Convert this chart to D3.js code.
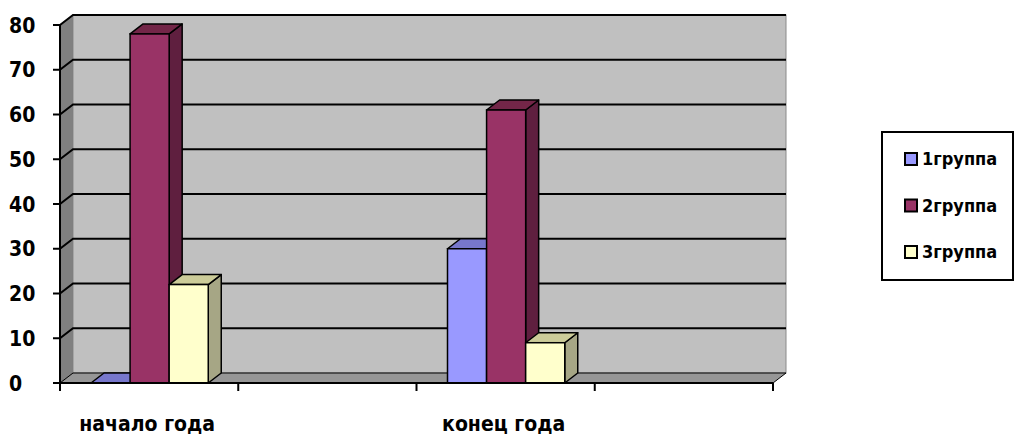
<!DOCTYPE html>
<html>
<head>
<meta charset="utf-8">
<script src="https://cdn.jsdelivr.net/npm/d3@7"></script>
<style>
  body { margin: 0; background: #fff; }
  text { font-family: "DejaVu Sans Condensed", "DejaVu Sans", sans-serif; font-weight: bold; fill: #000; }
</style>
</head>
<body>
<script>
// data
var categories = ["начало года", "", "конец года", " "];
var series = ["1группа", "2группа", "3группа"];
var group1 = [0, null, 30, null];
var group2 = [78, null, 61, null];
var group3 = [22, null, 9, null];
var yTicks = [0, 10, 20, 30, 40, 50, 60, 70, 80];

var colors = [
  { front: "#9999ff", top: "#7777cc", side: "#6666aa" },
  { front: "#993366", top: "#732648", side: "#5f1f3f" },
  { front: "#ffffcc", top: "#cccc99", side: "#a6a685" }
];

var width = 1017, height = 435;
var dx = 13, dy = -10; // depth offset

var svg = d3.select("body").append("svg")
  .attr("width", width)
  .attr("height", height);

var x = d3.scaleBand().domain(categories).range([60, 773]);
var y = d3.scaleLinear().domain([0, 80]).range([383, 25]);
var xs = d3.scaleBand().domain(series).range([31, x.bandwidth() - 30]);

var x0 = 60, x1 = 773, yb = y(0), yt = y(80);

// left side wall
svg.append("path")
  .attr("d", "M" + x0 + "," + yt + "L" + (x0 + dx) + "," + (yt + dy) + "L" + (x0 + dx) + "," + (yb + dy) + "L" + x0 + "," + yb + "Z")
  .attr("fill", "#808080")
  .attr("stroke", "#6a6a6a");

// back wall
svg.append("rect")
  .attr("x", x0 + dx)
  .attr("y", yt + dy)
  .attr("width", x1 - x0)
  .attr("height", yb - yt)
  .attr("fill", "#c0c0c0")
  .attr("stroke", "#8a8a8a");

// floor
svg.append("path")
  .attr("d", "M" + x0 + "," + yb + "L" + (x0 + dx) + "," + (yb + dy) + "L" + (x1 + dx) + "," + (yb + dy) + "L" + x1 + "," + yb + "Z")
  .attr("fill", "#969696")
  .attr("stroke", "#000")
  .attr("stroke-width", 1);

// gridlines
svg.selectAll(".grid")
  .data(yTicks.filter(function(d) { return d > 0; }))
  .enter()
  .append("path")
  .attr("class", "grid")
  .attr("d", function(d) {
    return "M" + x0 + "," + y(d) + "L" + (x0 + dx) + "," + (y(d) + dy) + "L" + (x1 + dx) + "," + (y(d) + dy);
  })
  .attr("fill", "none")
  .attr("stroke", "#000")
  .attr("stroke-width", 2);

// y axis
svg.append("line")
  .attr("x1", x0).attr("x2", x0)
  .attr("y1", yt).attr("y2", yb)
  .attr("stroke", "#000").attr("stroke-width", 2);

svg.selectAll(".ytick")
  .data(yTicks)
  .enter()
  .append("line")
  .attr("x1", x0 - 7).attr("x2", x0)
  .attr("y1", function(d) { return y(d); })
  .attr("y2", function(d) { return y(d); })
  .attr("stroke", "#000").attr("stroke-width", 2);

svg.selectAll(".ylabel")
  .data(yTicks)
  .enter()
  .append("text")
  .attr("x", 9)
  .attr("y", function(d) { return y(d); })
  .attr("dy", "0.36em")
  .attr("font-size", 21)
  .text(function(d) { return d; });

// bars
var values = [group1, group2, group3];
series.forEach(function(s, si) {
  var c = colors[si];
  categories.forEach(function(cat, ci) {
    var v = values[si][ci];
    if (v === null) return;
    var bx = x(cat) + xs(s), bw = xs.bandwidth();
    var top = y(v), bot = y(0);
    var g = svg.append("g");
    // side face
    g.append("path")
      .attr("d", "M" + (bx + bw) + "," + top + "L" + (bx + bw + dx) + "," + (top + dy) + "L" + (bx + bw + dx) + "," + (bot + dy) + "L" + (bx + bw) + "," + bot + "Z")
      .attr("fill", c.side).attr("stroke", "#000").attr("stroke-width", 1.5).attr("stroke-linejoin", "round");
    // top face
    g.append("path")
      .attr("d", "M" + bx + "," + top + "L" + (bx + dx) + "," + (top + dy) + "L" + (bx + bw + dx) + "," + (top + dy) + "L" + (bx + bw) + "," + top + "Z")
      .attr("fill", c.top).attr("stroke", "#000").attr("stroke-width", 1.5).attr("stroke-linejoin", "round");
    // front face
    if (v > 0) {
      g.append("rect")
        .attr("x", bx).attr("y", top)
        .attr("width", bw).attr("height", bot - top)
        .attr("fill", c.front).attr("stroke", "#000").attr("stroke-width", 1.5);
    }
  });
});

// x axis
svg.append("line")
  .attr("x1", x0).attr("x2", x1)
  .attr("y1", yb).attr("y2", yb)
  .attr("stroke", "#000").attr("stroke-width", 2);

var bounds = categories.map(function(c) { return x(c); }).concat([x1]);
svg.selectAll(".xtick")
  .data(bounds)
  .enter()
  .append("line")
  .attr("x1", function(d) { return d; })
  .attr("x2", function(d) { return d; })
  .attr("y1", yb).attr("y2", yb + 8)
  .attr("stroke", "#000").attr("stroke-width", 2);

svg.selectAll(".xlabel")
  .data(categories)
  .enter()
  .append("text")
  .attr("x", function(d) { return x(d) + x.bandwidth() / 2 - 2; })
  .attr("y", 431)
  .attr("text-anchor", "middle")
  .attr("font-size", 21)
  .text(function(d) { return d.trim(); });

// legend
var legend = svg.append("g");
legend.append("rect")
  .attr("x", 882).attr("y", 132)
  .attr("width", 131).attr("height", 148)
  .attr("fill", "#fff").attr("stroke", "#000").attr("stroke-width", 2);

var ly = d3.scalePoint().domain(series).range([159, 252]);
series.forEach(function(s, i) {
  legend.append("rect")
    .attr("x", 905).attr("y", ly(s) - 6)
    .attr("width", 12).attr("height", 12)
    .attr("fill", colors[i].front)
    .attr("stroke", "#000").attr("stroke-width", 2);
  legend.append("text")
    .attr("x", 922).attr("y", ly(s))
    .attr("dy", "0.36em")
    .attr("font-size", 18)
    .text(s);
});
</script>
</body>
</html>
